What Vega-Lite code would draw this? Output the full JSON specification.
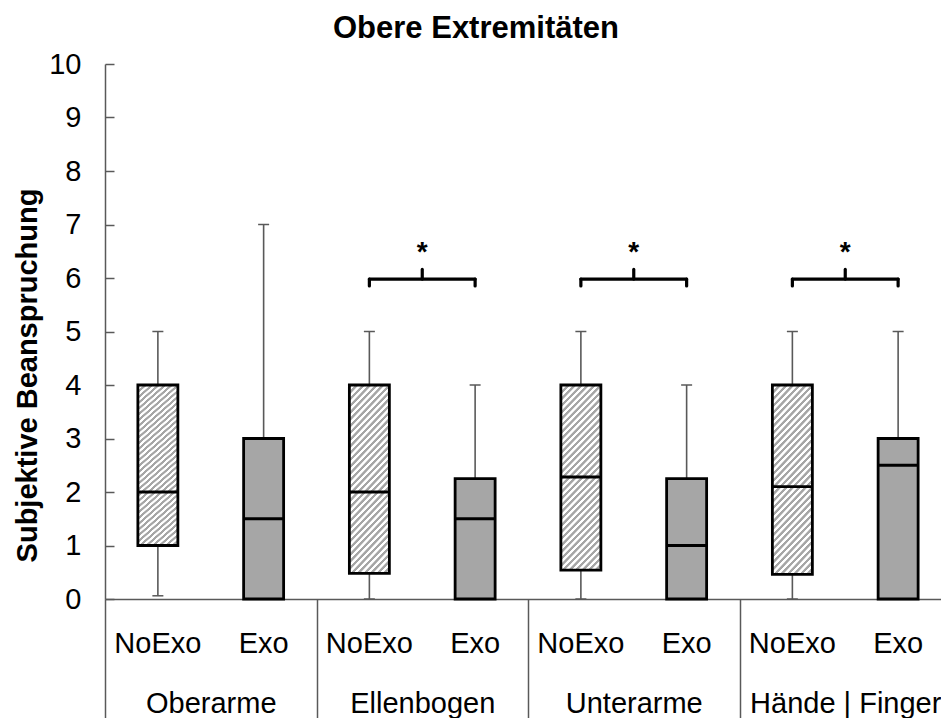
{
  "$schema": "https://vega.github.io/schema/vega-lite/v6.json",
  "width": 836,
  "height": 535,
  "autosize": "none",
  "padding": {"left": 105, "top": 64, "right": 0, "bottom": 119},
  "background": "#ffffff",
  "title": {"text": "Obere Extremitäten", "fontSize": 31, "fontWeight": "bold", "font": "Liberation Sans", "color": "#000000", "anchor": "middle", "dx": -47, "offset": 5},
  "config": {"view": {"stroke": null}, "font": "Liberation Sans", "tick": {"opacity": 1}},
  "datasets": {
    "boxes": [
      {"id": "Oberarme NoExo", "group": "Oberarme", "cond": "NoExo", "min": 0.06, "q1": 1, "median": 2, "q3": 4, "max": 5},
      {"id": "Oberarme Exo", "group": "Oberarme", "cond": "Exo", "min": 0, "q1": 0, "median": 1.5, "q3": 3, "max": 7},
      {"id": "Ellenbogen NoExo", "group": "Ellenbogen", "cond": "NoExo", "min": 0, "q1": 0.48, "median": 2, "q3": 4, "max": 5},
      {"id": "Ellenbogen Exo", "group": "Ellenbogen", "cond": "Exo", "min": 0, "q1": 0, "median": 1.5, "q3": 2.25, "max": 4},
      {"id": "Unterarme NoExo", "group": "Unterarme", "cond": "NoExo", "min": 0, "q1": 0.54, "median": 2.28, "q3": 4, "max": 5},
      {"id": "Unterarme Exo", "group": "Unterarme", "cond": "Exo", "min": 0, "q1": 0, "median": 1, "q3": 2.25, "max": 4},
      {"id": "Hände | Finger NoExo", "group": "Hände | Finger", "cond": "NoExo", "min": 0, "q1": 0.46, "median": 2.1, "q3": 4, "max": 5},
      {"id": "Hände | Finger Exo", "group": "Hände | Finger", "cond": "Exo", "min": 0, "q1": 0, "median": 2.5, "q3": 3, "max": 5}
    ],
    "brackets": [
      {"a": "Ellenbogen NoExo", "b": "Ellenbogen Exo"},
      {"a": "Unterarme NoExo", "b": "Unterarme Exo"},
      {"a": "Hände | Finger NoExo", "b": "Hände | Finger Exo"}
    ],
    "stars": [
      {"group": "Ellenbogen", "label": "*"},
      {"group": "Unterarme", "label": "*"},
      {"group": "Hände | Finger", "label": "*"}
    ]
  },
  "layer": [
    {
      "layer": [
        {
          "data": {"name": "boxes"},
          "mark": {"type": "rule", "color": "#595959", "strokeWidth": 1.6},
          "encoding": {
            "x": {"field": "id", "type": "nominal", "title": null, "sort": null,
              "scale": {"type": "band", "domain": ["Oberarme NoExo", "Oberarme Exo", "Ellenbogen NoExo", "Ellenbogen Exo", "Unterarme NoExo", "Unterarme Exo", "Hände | Finger NoExo", "Hände | Finger Exo"], "range": [0, 846], "paddingInner": 0, "paddingOuter": 0},
              "axis": {"orient": "bottom", "title": null, "labelExpr": "indexof(datum.label, 'NoExo') >= 0 ? 'NoExo' : 'Exo'", "labelAngle": 0, "ticks": false, "tickSize": 0, "labelPadding": 30, "labelFontSize": 29, "labelLimit": 0, "labelColor": "#000000", "labelFont": "Liberation Sans", "domainColor": "#595959", "domainWidth": 1.5, "grid": false}},
            "y": {"field": "min", "type": "quantitative", "title": "Subjektive Beanspruchung",
              "scale": {"domain": [0, 10], "nice": false},
              "axis": {"values": [0, 1, 2, 3, 4, 5, 6, 7, 8, 9, 10], "grid": false, "tickSize": -9, "labelPadding": 33, "labelFontSize": 29, "labelColor": "#000000", "labelFont": "Liberation Sans", "domainColor": "#595959", "tickColor": "#595959", "domainWidth": 1.5, "tickWidth": 1.5, "titleFontSize": 29, "titleFontWeight": "bold", "titleFont": "Liberation Sans", "titleColor": "#000000", "titleX": -63, "titleY": 311}},
            "y2": {"field": "max"}
          }
        },
        {
          "data": {"name": "boxes"},
          "mark": {"type": "tick", "size": 11, "thickness": 1.5, "color": "#595959", "opacity": 1},
          "encoding": {
            "x": {"field": "id", "type": "nominal", "title": null, "sort": null,
              "scale": {"type": "band", "domain": ["Oberarme NoExo", "Oberarme Exo", "Ellenbogen NoExo", "Ellenbogen Exo", "Unterarme NoExo", "Unterarme Exo", "Hände | Finger NoExo", "Hände | Finger Exo"], "range": [0, 846], "paddingInner": 0, "paddingOuter": 0}},
            "y": {"field": "max", "type": "quantitative", "title": "Subjektive Beanspruchung", "scale": {"domain": [0, 10], "nice": false}}
          }
        },
        {
          "data": {"name": "boxes"},
          "mark": {"type": "tick", "size": 11, "thickness": 1.5, "color": "#595959", "opacity": 1},
          "encoding": {
            "x": {"field": "id", "type": "nominal", "title": null, "sort": null,
              "scale": {"type": "band", "domain": ["Oberarme NoExo", "Oberarme Exo", "Ellenbogen NoExo", "Ellenbogen Exo", "Unterarme NoExo", "Unterarme Exo", "Hände | Finger NoExo", "Hände | Finger Exo"], "range": [0, 846], "paddingInner": 0, "paddingOuter": 0}},
            "y": {"field": "min", "type": "quantitative", "title": "Subjektive Beanspruchung", "scale": {"domain": [0, 10], "nice": false}}
          }
        },
        {
          "data": {"name": "boxes"},
          "transform": [{"filter": "datum.cond === 'NoExo'"}],
          "mark": {"type": "bar", "width": 40, "stroke": "#000000", "strokeWidth": 2.8,
            "fill": {"gradient": "linear", "x1": 0, "y1": 0, "x2": 0.257, "y2": 1.164, "stops": [
              {"offset": 0, "color": "#a6a6a6"}, {"offset": 0.0118, "color": "#a6a6a6"}, {"offset": 0.0147, "color": "#ffffff"}, {"offset": 0.0265, "color": "#ffffff"},
              {"offset": 0.0294, "color": "#a6a6a6"}, {"offset": 0.0412, "color": "#a6a6a6"}, {"offset": 0.0441, "color": "#ffffff"}, {"offset": 0.0559, "color": "#ffffff"},
              {"offset": 0.0588, "color": "#a6a6a6"}, {"offset": 0.0706, "color": "#a6a6a6"}, {"offset": 0.0735, "color": "#ffffff"}, {"offset": 0.0853, "color": "#ffffff"},
              {"offset": 0.0882, "color": "#a6a6a6"}, {"offset": 0.1, "color": "#a6a6a6"}, {"offset": 0.1029, "color": "#ffffff"}, {"offset": 0.1147, "color": "#ffffff"},
              {"offset": 0.1176, "color": "#a6a6a6"}, {"offset": 0.1294, "color": "#a6a6a6"}, {"offset": 0.1324, "color": "#ffffff"}, {"offset": 0.1441, "color": "#ffffff"},
              {"offset": 0.1471, "color": "#a6a6a6"}, {"offset": 0.1588, "color": "#a6a6a6"}, {"offset": 0.1618, "color": "#ffffff"}, {"offset": 0.1735, "color": "#ffffff"},
              {"offset": 0.1765, "color": "#a6a6a6"}, {"offset": 0.1882, "color": "#a6a6a6"}, {"offset": 0.1912, "color": "#ffffff"}, {"offset": 0.2029, "color": "#ffffff"},
              {"offset": 0.2059, "color": "#a6a6a6"}, {"offset": 0.2176, "color": "#a6a6a6"}, {"offset": 0.2206, "color": "#ffffff"}, {"offset": 0.2324, "color": "#ffffff"},
              {"offset": 0.2353, "color": "#a6a6a6"}, {"offset": 0.2471, "color": "#a6a6a6"}, {"offset": 0.25, "color": "#ffffff"}, {"offset": 0.2618, "color": "#ffffff"},
              {"offset": 0.2647, "color": "#a6a6a6"}, {"offset": 0.2765, "color": "#a6a6a6"}, {"offset": 0.2794, "color": "#ffffff"}, {"offset": 0.2912, "color": "#ffffff"},
              {"offset": 0.2941, "color": "#a6a6a6"}, {"offset": 0.3059, "color": "#a6a6a6"}, {"offset": 0.3088, "color": "#ffffff"}, {"offset": 0.3206, "color": "#ffffff"},
              {"offset": 0.3235, "color": "#a6a6a6"}, {"offset": 0.3353, "color": "#a6a6a6"}, {"offset": 0.3382, "color": "#ffffff"}, {"offset": 0.35, "color": "#ffffff"},
              {"offset": 0.3529, "color": "#a6a6a6"}, {"offset": 0.3647, "color": "#a6a6a6"}, {"offset": 0.3676, "color": "#ffffff"}, {"offset": 0.3794, "color": "#ffffff"},
              {"offset": 0.3824, "color": "#a6a6a6"}, {"offset": 0.3941, "color": "#a6a6a6"}, {"offset": 0.3971, "color": "#ffffff"}, {"offset": 0.4088, "color": "#ffffff"},
              {"offset": 0.4118, "color": "#a6a6a6"}, {"offset": 0.4235, "color": "#a6a6a6"}, {"offset": 0.4265, "color": "#ffffff"}, {"offset": 0.4382, "color": "#ffffff"},
              {"offset": 0.4412, "color": "#a6a6a6"}, {"offset": 0.4529, "color": "#a6a6a6"}, {"offset": 0.4559, "color": "#ffffff"}, {"offset": 0.4676, "color": "#ffffff"},
              {"offset": 0.4706, "color": "#a6a6a6"}, {"offset": 0.4824, "color": "#a6a6a6"}, {"offset": 0.4853, "color": "#ffffff"}, {"offset": 0.4971, "color": "#ffffff"},
              {"offset": 0.5, "color": "#a6a6a6"}, {"offset": 0.5118, "color": "#a6a6a6"}, {"offset": 0.5147, "color": "#ffffff"}, {"offset": 0.5265, "color": "#ffffff"},
              {"offset": 0.5294, "color": "#a6a6a6"}, {"offset": 0.5412, "color": "#a6a6a6"}, {"offset": 0.5441, "color": "#ffffff"}, {"offset": 0.5559, "color": "#ffffff"},
              {"offset": 0.5588, "color": "#a6a6a6"}, {"offset": 0.5706, "color": "#a6a6a6"}, {"offset": 0.5735, "color": "#ffffff"}, {"offset": 0.5853, "color": "#ffffff"},
              {"offset": 0.5882, "color": "#a6a6a6"}, {"offset": 0.6, "color": "#a6a6a6"}, {"offset": 0.6029, "color": "#ffffff"}, {"offset": 0.6147, "color": "#ffffff"},
              {"offset": 0.6176, "color": "#a6a6a6"}, {"offset": 0.6294, "color": "#a6a6a6"}, {"offset": 0.6324, "color": "#ffffff"}, {"offset": 0.6441, "color": "#ffffff"},
              {"offset": 0.6471, "color": "#a6a6a6"}, {"offset": 0.6588, "color": "#a6a6a6"}, {"offset": 0.6618, "color": "#ffffff"}, {"offset": 0.6735, "color": "#ffffff"},
              {"offset": 0.6765, "color": "#a6a6a6"}, {"offset": 0.6882, "color": "#a6a6a6"}, {"offset": 0.6912, "color": "#ffffff"}, {"offset": 0.7029, "color": "#ffffff"},
              {"offset": 0.7059, "color": "#a6a6a6"}, {"offset": 0.7176, "color": "#a6a6a6"}, {"offset": 0.7206, "color": "#ffffff"}, {"offset": 0.7324, "color": "#ffffff"},
              {"offset": 0.7353, "color": "#a6a6a6"}, {"offset": 0.7471, "color": "#a6a6a6"}, {"offset": 0.75, "color": "#ffffff"}, {"offset": 0.7618, "color": "#ffffff"},
              {"offset": 0.7647, "color": "#a6a6a6"}, {"offset": 0.7765, "color": "#a6a6a6"}, {"offset": 0.7794, "color": "#ffffff"}, {"offset": 0.7912, "color": "#ffffff"},
              {"offset": 0.7941, "color": "#a6a6a6"}, {"offset": 0.8059, "color": "#a6a6a6"}, {"offset": 0.8088, "color": "#ffffff"}, {"offset": 0.8206, "color": "#ffffff"},
              {"offset": 0.8235, "color": "#a6a6a6"}, {"offset": 0.8353, "color": "#a6a6a6"}, {"offset": 0.8382, "color": "#ffffff"}, {"offset": 0.85, "color": "#ffffff"},
              {"offset": 0.8529, "color": "#a6a6a6"}, {"offset": 0.8647, "color": "#a6a6a6"}, {"offset": 0.8676, "color": "#ffffff"}, {"offset": 0.8794, "color": "#ffffff"},
              {"offset": 0.8824, "color": "#a6a6a6"}, {"offset": 0.8941, "color": "#a6a6a6"}, {"offset": 0.8971, "color": "#ffffff"}, {"offset": 0.9088, "color": "#ffffff"},
              {"offset": 0.9118, "color": "#a6a6a6"}, {"offset": 0.9235, "color": "#a6a6a6"}, {"offset": 0.9265, "color": "#ffffff"}, {"offset": 0.9382, "color": "#ffffff"},
              {"offset": 0.9412, "color": "#a6a6a6"}, {"offset": 0.9529, "color": "#a6a6a6"}, {"offset": 0.9559, "color": "#ffffff"}, {"offset": 0.9676, "color": "#ffffff"},
              {"offset": 0.9706, "color": "#a6a6a6"}, {"offset": 0.9824, "color": "#a6a6a6"}, {"offset": 0.9853, "color": "#ffffff"}, {"offset": 0.9971, "color": "#ffffff"},
              {"offset": 1, "color": "#a6a6a6"}
            ]}},
          "encoding": {
            "x": {"field": "id", "type": "nominal", "title": null, "sort": null,
              "scale": {"type": "band", "domain": ["Oberarme NoExo", "Oberarme Exo", "Ellenbogen NoExo", "Ellenbogen Exo", "Unterarme NoExo", "Unterarme Exo", "Hände | Finger NoExo", "Hände | Finger Exo"], "range": [0, 846], "paddingInner": 0, "paddingOuter": 0}},
            "y": {"field": "q1", "type": "quantitative", "title": "Subjektive Beanspruchung", "scale": {"domain": [0, 10], "nice": false}},
            "y2": {"field": "q3"}
          }
        },
        {
          "data": {"name": "boxes"},
          "transform": [{"filter": "datum.cond === 'Exo'"}],
          "mark": {"type": "bar", "width": 40, "stroke": "#000000", "strokeWidth": 2.8, "fill": "#a6a6a6"},
          "encoding": {
            "x": {"field": "id", "type": "nominal", "title": null, "sort": null,
              "scale": {"type": "band", "domain": ["Oberarme NoExo", "Oberarme Exo", "Ellenbogen NoExo", "Ellenbogen Exo", "Unterarme NoExo", "Unterarme Exo", "Hände | Finger NoExo", "Hände | Finger Exo"], "range": [0, 846], "paddingInner": 0, "paddingOuter": 0}},
            "y": {"field": "q1", "type": "quantitative", "title": "Subjektive Beanspruchung", "scale": {"domain": [0, 10], "nice": false}},
            "y2": {"field": "q3"}
          }
        },
        {
          "data": {"name": "boxes"},
          "mark": {"type": "tick", "size": 40, "thickness": 2.8, "color": "#000000", "opacity": 1},
          "encoding": {
            "x": {"field": "id", "type": "nominal", "title": null, "sort": null,
              "scale": {"type": "band", "domain": ["Oberarme NoExo", "Oberarme Exo", "Ellenbogen NoExo", "Ellenbogen Exo", "Unterarme NoExo", "Unterarme Exo", "Hände | Finger NoExo", "Hände | Finger Exo"], "range": [0, 846], "paddingInner": 0, "paddingOuter": 0}},
            "y": {"field": "median", "type": "quantitative", "title": "Subjektive Beanspruchung", "scale": {"domain": [0, 10], "nice": false}}
          }
        },
        {
          "data": {"name": "brackets"},
          "mark": {"type": "rule", "color": "#000000", "strokeWidth": 3.2, "strokeCap": "round"},
          "encoding": {
            "x": {"field": "a", "type": "nominal", "title": null, "sort": null,
              "scale": {"type": "band", "domain": ["Oberarme NoExo", "Oberarme Exo", "Ellenbogen NoExo", "Ellenbogen Exo", "Unterarme NoExo", "Unterarme Exo", "Hände | Finger NoExo", "Hände | Finger Exo"], "range": [0, 846], "paddingInner": 0, "paddingOuter": 0}},
            "x2": {"field": "b"},
            "y": {"datum": 5.98, "type": "quantitative", "title": "Subjektive Beanspruchung", "scale": {"domain": [0, 10], "nice": false}}
          }
        },
        {
          "data": {"name": "brackets"},
          "mark": {"type": "rule", "color": "#000000", "strokeWidth": 3.2, "strokeCap": "round"},
          "encoding": {
            "x": {"field": "a", "type": "nominal", "title": null, "sort": null,
              "scale": {"type": "band", "domain": ["Oberarme NoExo", "Oberarme Exo", "Ellenbogen NoExo", "Ellenbogen Exo", "Unterarme NoExo", "Unterarme Exo", "Hände | Finger NoExo", "Hände | Finger Exo"], "range": [0, 846], "paddingInner": 0, "paddingOuter": 0}},
            "y": {"datum": 5.85, "type": "quantitative", "title": "Subjektive Beanspruchung", "scale": {"domain": [0, 10], "nice": false}},
            "y2": {"datum": 5.98}
          }
        },
        {
          "data": {"name": "brackets"},
          "mark": {"type": "rule", "color": "#000000", "strokeWidth": 3.2, "strokeCap": "round"},
          "encoding": {
            "x": {"field": "b", "type": "nominal", "title": null, "sort": null,
              "scale": {"type": "band", "domain": ["Oberarme NoExo", "Oberarme Exo", "Ellenbogen NoExo", "Ellenbogen Exo", "Unterarme NoExo", "Unterarme Exo", "Hände | Finger NoExo", "Hände | Finger Exo"], "range": [0, 846], "paddingInner": 0, "paddingOuter": 0}},
            "y": {"datum": 5.85, "type": "quantitative", "title": "Subjektive Beanspruchung", "scale": {"domain": [0, 10], "nice": false}},
            "y2": {"datum": 5.98}
          }
        },
        {
          "data": {"name": "brackets"},
          "mark": {"type": "rule", "color": "#000000", "strokeWidth": 3.2, "strokeCap": "round"},
          "encoding": {
            "x": {"field": "b", "type": "nominal", "title": null, "sort": null, "bandPosition": 0,
              "scale": {"type": "band", "domain": ["Oberarme NoExo", "Oberarme Exo", "Ellenbogen NoExo", "Ellenbogen Exo", "Unterarme NoExo", "Unterarme Exo", "Hände | Finger NoExo", "Hände | Finger Exo"], "range": [0, 846], "paddingInner": 0, "paddingOuter": 0}},
            "y": {"datum": 5.98, "type": "quantitative", "title": "Subjektive Beanspruchung", "scale": {"domain": [0, 10], "nice": false}},
            "y2": {"datum": 6.16}
          }
        }
      ]
    },
    {
      "data": {"name": "stars"},
      "mark": {"type": "text", "fontSize": 28, "fontWeight": "bold", "font": "Liberation Sans", "color": "#000000", "baseline": "alphabetic", "align": "center"},
      "encoding": {
        "x": {"field": "group", "type": "nominal", "title": null, "sort": null,
          "scale": {"type": "band", "domain": ["Oberarme", "Ellenbogen", "Unterarme", "Hände | Finger"], "range": [0, 846], "paddingInner": 0, "paddingOuter": 0},
          "axis": {"orient": "bottom", "title": null, "domain": false, "ticks": true, "tickBand": "extent", "tickSize": 119, "tickColor": "#595959", "tickWidth": 1.5, "labelPadding": -29, "labelAngle": 0, "labelFontSize": 29, "labelLimit": 0, "labelColor": "#000000", "labelFont": "Liberation Sans", "grid": false}},
        "y": {"datum": 6.32, "type": "quantitative", "title": "Subjektive Beanspruchung", "scale": {"domain": [0, 10], "nice": false}},
        "text": {"field": "label"}
      }
    }
  ],
  "resolve": {"scale": {"x": "independent"}, "axis": {"x": "independent"}}
}
